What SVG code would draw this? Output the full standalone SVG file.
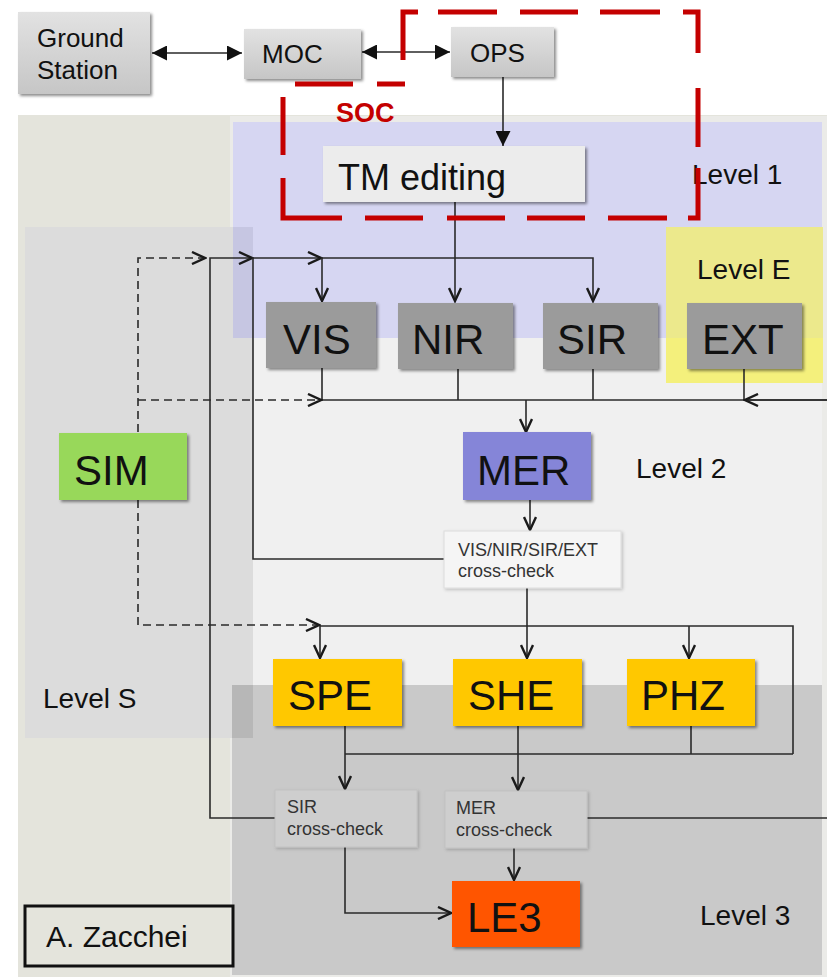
<svg xmlns="http://www.w3.org/2000/svg" width="827" height="977" viewBox="0 0 827 977">
<defs>
<style>
text{font-family:"Liberation Sans",Arial,sans-serif;fill:#111}
.big{font-size:42px}
.lvl{font-size:28px}
.top{font-size:26px}
.cc{font-size:18px;fill:#333}
.ln{fill:none;stroke:#2a2a2a;stroke-width:1.6}
.dash{fill:none;stroke:#2a2a2a;stroke-width:1.6;stroke-dasharray:8 5}
.shd{filter:url(#sh)}
</style>
<filter id="sh" x="-10%" y="-10%" width="130%" height="140%"><feDropShadow dx="2" dy="2" stdDeviation="1.5" flood-color="#000" flood-opacity="0.45"/></filter>
<filter id="sh2" x="-10%" y="-10%" width="130%" height="140%"><feDropShadow dx="1.5" dy="1.5" stdDeviation="1.5" flood-color="#000" flood-opacity="0.2"/></filter>
<linearGradient id="gg" x1="0" y1="0" x2="0" y2="1"><stop offset="0" stop-color="#e2e2e2"/><stop offset="1" stop-color="#c6c6c6"/></linearGradient>
<marker id="chev" viewBox="0 0 16 14" refX="14" refY="7" markerWidth="16" markerHeight="14" markerUnits="userSpaceOnUse" orient="auto"><path d="M1,1 L14,7 L1,13" fill="none" stroke="#1a1a1a" stroke-width="2.4"/></marker>
<marker id="tri" viewBox="0 0 15 15" refX="15" refY="7.5" markerWidth="15" markerHeight="15" markerUnits="userSpaceOnUse" orient="auto-start-reverse"><path d="M0,0 L15,7.5 L0,15 Z" fill="#111"/></marker>
</defs>
<rect width="827" height="977" fill="#fff"/>
<g id="backgrounds">
<rect x="18" y="115" width="809" height="862" fill="#e4e4dc"/>
<rect x="230" y="116" width="597" height="861" fill="#ebebe8"/>
<rect x="233" y="122" width="589" height="216" fill="#d6d6f2"/>
<rect x="233" y="338" width="589" height="347" fill="#f0f0f0"/>
<rect x="232" y="685" width="590" height="290" fill="#c9c9c9"/>
<rect x="25" y="227" width="228" height="511" fill="#dcdcdc"/>
<rect x="233" y="227" width="20" height="111" fill="#c6c6e2"/>
<rect x="232" y="685" width="21" height="53" fill="#b7b7b7"/>
<rect x="666" y="227" width="157" height="111" fill="#ece98c"/>
<rect x="666" y="338" width="157" height="45" fill="#f4f07c"/>
</g>
<g id="level-labels">
<text class="lvl" x="692" y="184">Level 1</text>
<text class="lvl" x="697" y="279">Level E</text>
<text class="lvl" x="636" y="478">Level 2</text>
<text class="lvl" x="43" y="708">Level S</text>
<text class="lvl" x="700" y="925">Level 3</text>
</g>
<g id="connectors">
<path class="ln" d="M152,53 H242" marker-start="url(#tri)" marker-end="url(#tri)"/>
<path class="ln" d="M362,52 H450" marker-start="url(#tri)" marker-end="url(#tri)"/>
<path class="ln" d="M503,77 V146" marker-end="url(#tri)"/>
<path class="ln" d="M455,202 V301" marker-end="url(#chev)"/>
<path class="ln" d="M275,818 H210 V258 H252" marker-end="url(#chev)"/>
<path class="ln" d="M444,559 H253 V258 H321" marker-end="url(#chev)"/>
<path class="ln" d="M321,258 H593 V301" marker-end="url(#chev)"/>
<path class="ln" d="M322,258 V301" marker-end="url(#chev)"/>
<path class="dash" d="M138,432 V258 H205" marker-end="url(#chev)"/>
<path class="ln" d="M322,368 V400 H827"/>
<path class="ln" d="M458,369 V400 M593,369 V400"/>
<path class="ln" d="M744,369 V400"/>
<path class="ln" d="M827,400 H745" marker-end="url(#chev)"/>
<path class="dash" d="M138,400 H321" marker-end="url(#chev)"/>
<path class="ln" d="M526,400 V432" marker-end="url(#chev)"/>
<path class="ln" d="M530,500 V530" marker-end="url(#chev)"/>
<path class="ln" d="M527,588 V658" marker-end="url(#chev)"/>
<path class="ln" d="M320,626 H793 V754"/>
<path class="ln" d="M320,626 V658" marker-end="url(#chev)"/>
<path class="ln" d="M689,626 V658" marker-end="url(#chev)"/>
<path class="dash" d="M138,500 V625 H319" marker-end="url(#chev)"/>
<path class="ln" d="M345,754 H793 M691,726 V754"/>
<path class="ln" d="M345,726 V789" marker-end="url(#chev)"/>
<path class="ln" d="M518,726 V790" marker-end="url(#chev)"/>
<path class="ln" d="M587,818 H827"/>
<path class="ln" d="M345,847 V913 H451" marker-end="url(#chev)"/>
<path class="ln" d="M514,848 V880" marker-end="url(#chev)"/>
</g>
<g id="ground-station"><rect class="shd" x="18" y="12" width="132" height="82" fill="url(#gg)"/><text class="top" x="37" y="47">Ground</text><text class="top" x="37" y="79">Station</text></g>
<g id="moc"><rect class="shd" x="244" y="29" width="117" height="50" fill="url(#gg)"/><text class="top" x="262" y="63">MOC</text></g>
<g id="ops"><rect class="shd" x="451" y="27" width="103" height="50" fill="url(#gg)"/><text class="top" x="470" y="62">OPS</text></g>
<g id="tm-editing"><rect class="shd" x="323" y="146" width="262" height="56" fill="#ececec"/><text x="338" y="190" style="font-size:36px">TM editing</text></g>
<g id="vis"><rect class="shd" x="266" y="302" width="110" height="66" fill="#9b9b9b"/><text class="big" x="283" y="354">VIS</text></g>
<g id="nir"><rect class="shd" x="398" y="303" width="115" height="66" fill="#9b9b9b"/><text class="big" x="412" y="354">NIR</text></g>
<g id="sir"><rect class="shd" x="543" y="303" width="115" height="66" fill="#9b9b9b"/><text class="big" x="557" y="354">SIR</text></g>
<g id="ext"><rect class="shd" x="687" y="303" width="115" height="66" fill="#9b9b9b"/><text class="big" x="702" y="354">EXT</text></g>
<g id="mer"><rect class="shd" x="463" y="432" width="128" height="68" fill="#8585d8"/><text class="big" x="477" y="485">MER</text></g>
<g id="sim"><rect class="shd" x="59" y="433" width="128" height="67" fill="#98d85a"/><text class="big" x="74" y="485">SIM</text></g>
<g id="cross-check-1"><rect style="filter:url(#sh2)" x="444" y="531" width="177" height="57" fill="#f5f5f5" stroke="#dcdcdc"/><text class="cc" x="458" y="556">VIS/NIR/SIR/EXT</text><text class="cc" x="458" y="577">cross-check</text></g>
<g id="spe"><rect class="shd" x="273" y="659" width="129" height="67" fill="#ffc800"/><text class="big" x="288" y="710">SPE</text></g>
<g id="she"><rect class="shd" x="453" y="659" width="129" height="67" fill="#ffc800"/><text class="big" x="468" y="710">SHE</text></g>
<g id="phz"><rect class="shd" x="627" y="659" width="128" height="67" fill="#ffc800"/><text class="big" x="641" y="710">PHZ</text></g>
<g id="sir-cross-check"><rect style="filter:url(#sh2)" x="275" y="790" width="142" height="57" fill="#cecece" stroke="#c2c2c2"/><text class="cc" x="287" y="813">SIR</text><text class="cc" x="287" y="835">cross-check</text></g>
<g id="mer-cross-check"><rect style="filter:url(#sh2)" x="445" y="791" width="142" height="57" fill="#cecece" stroke="#c2c2c2"/><text class="cc" x="456" y="814">MER</text><text class="cc" x="456" y="836">cross-check</text></g>
<g id="le3"><rect class="shd" x="452" y="881" width="128" height="66" fill="#ff5500"/><text class="big" x="467" y="932">LE3</text></g>
<g id="soc">
<path fill="none" stroke="#c40000" stroke-width="5" d="M403,60 V12 H418 M438,12 H497 M520,12 H578 M600,12 H660 M683,12 H698 V53 M698,88 V147 M698,168 V218 H688 M667,218 H608 M585,218 H527 M505,218 H447 M423,218 H365 M342,218 H283 V178 M283,155 V97 M295,84 H353 M377,84 H405"/>
<text x="336" y="122" style="font-size:27px;font-weight:bold;fill:#c40000">SOC</text>
</g>
<g id="credit"><rect x="25" y="906" width="208" height="60" fill="none" stroke="#111" stroke-width="3"/><text x="46" y="947" style="font-size:30px">A. Zacchei</text></g>
</svg>
